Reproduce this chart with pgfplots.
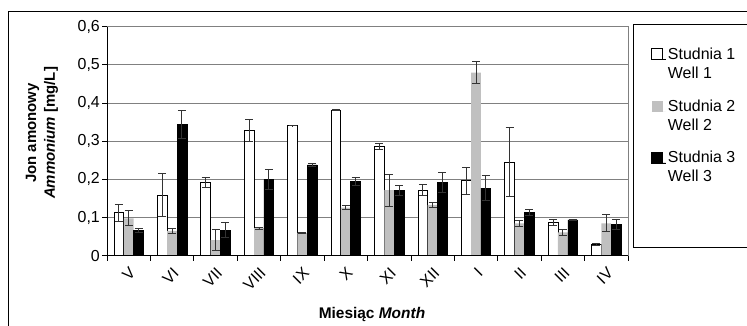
\documentclass[border=0pt]{standalone}
\usepackage{fontspec}
\setmainfont{Liberation Sans}
\usepackage{pgfplots}
\pgfplotsset{compat=1.18}
\definecolor{barg}{HTML}{C0C0C0}
\definecolor{gridg}{HTML}{808080}
\definecolor{errc}{HTML}{333333}
\begin{document}
\begin{tikzpicture}
\useasboundingbox (0,0) rectangle (747bp,326bp);
\draw[black, line width=1bp] (8bp,-20bp) -- (8bp,314bp) -- (770bp,314bp);
\draw[black, line width=0.8bp] (633bp,79bp) rectangle (770bp,302bp);
\begin{axis}[
  at={(107bp,70.3bp)}, anchor=south west,
  width=521bp, height=229bp, scale only axis,
  ybar=0pt, bar width=9.8bp,
  xmin=-0.5, xmax=11.5, ymin=0, ymax=0.6,
  xtick={-0.5,0.5,...,11.5},
  x tick label as interval,
  xticklabels={V,VI,VII,VIII,IX,X,XI,XII,I,II,III,IV},
  ytick={0,0.1,0.2,0.3,0.4,0.5,0.6},
  /pgf/number format/fixed, /pgf/number format/precision=1,
  /pgf/number format/use comma, /pgf/number format/assume math mode=true,
  tick align=outside, major tick length=5bp,
  xtick pos=bottom, ytick pos=left,
  tick style={black, line width=0.8bp},
  ymajorgrids, grid style={gridg, line width=1bp},
  axis line style={gridg, line width=1bp},
  ticklabel style={font=\fontsize{16}{19}\selectfont},
  x tick label style={rotate=45, anchor=north east, inner sep=0pt, yshift=-4bp, xshift=-4bp},
  y tick label style={inner sep=2bp},
  xlabel={Miesiąc \textit{Month}},
  xlabel style={font=\fontsize{15.5}{18}\selectfont\bfseries, at={(axis description cs:0.5086,-0.255)}, anchor=center},
  ylabel={Jon amonowy\\\textit{Ammonium} [mg/L]},
  ylabel style={font=\fontsize{15}{19}\selectfont\bfseries, align=center, at={(axis description cs:-0.1248,0.536)}, anchor=center},
  legend style={at={(1.0441,0.925)}, anchor=north west, draw=none, fill=none, inner sep=0pt,
    row sep=33bp, font=\fontsize{16}{19}\selectfont, nodes={inner sep=2bp, anchor=base west}},
  legend cell align=left,
  error bars/error bar style={errc, line width=0.9bp},
  error bars/error mark options={errc, rotate=90, mark size=4bp, line width=0.9bp},
  after end axis/.code={\draw[black, line width=0.9bp] (rel axis cs:0,1) -- (rel axis cs:0,0) -- (rel axis cs:1,0);},
]
\addplot[fill=white, draw=black, line width=0.8bp,
  error bars/.cd, y dir=both, y explicit,
  /pgfplots/legend image code/.code={\path (0bp,0bp) -- (14bp,0bp); \path[draw=black,fill=white,line width=0.8bp] (0bp,-0.5bp) rectangle (11bp,10.5bp);}]
  coordinates {
  (0,0.113) +- (0,0.022)
  (1,0.159) +- (0,0.057)
  (2,0.191) +- (0,0.013)
  (3,0.329) +- (0,0.029)
  (4,0.341) +- (0,0.001)
  (5,0.382) +- (0,0.001)
  (6,0.286) +- (0,0.007)
  (7,0.172) +- (0,0.014)
  (8,0.196) +- (0,0.036)
  (9,0.245) +- (0,0.090)
  (10,0.087) +- (0,0.008)
  (11,0.030) +- (0,0.002)
};
\addlegendentry{\begin{tabular}[t]{@{}l@{}}Studnia 1\\Well 1\end{tabular}}
\addplot[fill=barg, draw=none,
  error bars/.cd, y dir=both, y explicit,
  /pgfplots/legend image code/.code={\path (0bp,0bp) -- (14bp,0bp); \path[fill=barg] (0bp,-0.5bp) rectangle (11bp,10.5bp);}]
  coordinates {
  (0,0.098) +- (0,0.020)
  (1,0.065) +- (0,0.007)
  (2,0.041) +- (0,0.028)
  (3,0.072) +- (0,0.002)
  (4,0.060) +- (0,0.001)
  (5,0.126) +- (0,0.006)
  (6,0.172) +- (0,0.042)
  (7,0.133) +- (0,0.007)
  (8,0.480) +- (0,0.028)
  (9,0.085) +- (0,0.008)
  (10,0.061) +- (0,0.008)
  (11,0.085) +- (0,0.022)
};
\addlegendentry{\begin{tabular}[t]{@{}l@{}}Studnia 2\\Well 2\end{tabular}}
\addplot[fill=black, draw=black, line width=0.5bp,
  error bars/.cd, y dir=both, y explicit,
  /pgfplots/legend image code/.code={\path (0bp,0bp) -- (14bp,0bp); \path[fill=black] (0bp,-0.5bp) rectangle (11bp,10.5bp);}]
  coordinates {
  (0,0.067) +- (0,0.005)
  (1,0.344) +- (0,0.037)
  (2,0.067) +- (0,0.019)
  (3,0.200) +- (0,0.027)
  (4,0.238) +- (0,0.004)
  (5,0.194) +- (0,0.011)
  (6,0.172) +- (0,0.013)
  (7,0.192) +- (0,0.026)
  (8,0.177) +- (0,0.033)
  (9,0.114) +- (0,0.008)
  (10,0.094) +- (0,0.001)
  (11,0.082) +- (0,0.013)
};
\addlegendentry{\begin{tabular}[t]{@{}l@{}}Studnia 3\\Well 3\end{tabular}}
\end{axis}
\end{tikzpicture}
\end{document}
